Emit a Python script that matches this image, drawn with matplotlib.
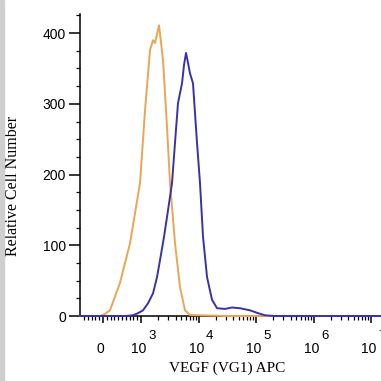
import matplotlib
matplotlib.use("Agg")
import matplotlib.pyplot as plt
from matplotlib.ticker import MultipleLocator, NullFormatter
from matplotlib.patches import Rectangle

# fluorescence intensity (APC) vs cell count
iso_x = [-600, -210, -79, 53, 184, 447, 711, 974, 1174, 1434, 1617, 1752, 2056,
         2413, 2832, 3192, 3900, 4763, 5820, 7110, 10600, 19360, 30000, 1.5e7]
iso_y = [0, 0, 0, 3, 8, 47, 103, 188, 291, 376, 390, 386, 411,
         362, 267, 188, 103, 41, 8, 1.5, 1, 0.5, 0, 0]

vegf_x = [-600, 579, 789, 921, 1083, 1323, 1617, 1898, 2140, 2512, 2832, 3461,
          3900, 4395, 5164, 5596, 6065, 6564, 7110, 8015, 9410, 10610, 11970,
          14060, 17170, 20980, 28910, 38280, 52730, 78700, 108400, 143400,
          214000, 1.5e7]
vegf_y = [0, 0, 1, 4, 8, 18, 32, 55, 79, 112, 140, 188,
          245, 301, 329, 355, 372, 358, 343, 329, 245, 188, 112,
          55, 23, 11, 10, 12, 11, 8, 4, 1,
          0, 0]

x_ticks = [0, 1e3, 1e4, 1e5, 1e6, 1e7]
x_tick_exps = [None, 3, 4, 5, 6, 7]
y_ticks = [0, 100, 200, 300, 400]

sans = "Liberation Sans"
serif = "Liberation Serif"

fig = plt.figure(figsize=(3.81, 3.81), dpi=100)
fig.patches.append(Rectangle((0, 0), 4 / 381, 1, transform=fig.transFigure,
                             color="#cfcfcf", zorder=0))
ax = fig.add_axes([80 / 381, 65 / 381, 301 / 381, 302 / 381])

ax.plot(iso_x, iso_y, color="#EAA654", lw=1.4, solid_joinstyle="round",
        clip_on=False, zorder=4)
ax.plot(vegf_x, vegf_y, color="#3B31A8", lw=1.4, solid_joinstyle="round",
        clip_on=False, zorder=5)

# biexponential-like axis: linear near zero, log above 10^3
ax.set_xscale("symlog", linthresh=1000, linscale=0.595)
ax.set_xlim(-605, 1.49e7)
ax.set_ylim(0, 427)

ax.spines["top"].set_visible(False)
ax.spines["right"].set_visible(False)
ax.spines["left"].set_linewidth(1.1)
ax.spines["bottom"].set_linewidth(1.1)

# x ticks
ax.set_xticks(x_ticks)
ax.set_xticklabels([""] * len(x_ticks))
minor = [v for v in range(-500, 1000, 100) if v != 0]
for d in range(3, 7):
    minor += [k * 10 ** d for k in range(2, 10)]
ax.set_xticks(minor, minor=True)
ax.xaxis.set_minor_formatter(NullFormatter())
ax.tick_params(axis="x", which="major", length=5, width=1.1, direction="out")
ax.tick_params(axis="x", which="minor", length=3, width=0.9, direction="out")

for val, e in zip(x_ticks, x_tick_exps):
    if e is None:
        ax.annotate("0", xy=(val, 0), xycoords=("data", "axes fraction"),
                    xytext=(-2, -23.5), textcoords="offset points",
                    ha="center", va="center", fontsize=10, family=sans)
    else:
        ax.annotate("10", xy=(val, 0), xycoords=("data", "axes fraction"),
                    xytext=(-1.5, -23.5), textcoords="offset points",
                    ha="center", va="center", fontsize=10, family=sans)
        ax.annotate(str(e), xy=(val, 0), xycoords=("data", "axes fraction"),
                    xytext=(5.5, -14.5), textcoords="offset points",
                    ha="left", va="center", fontsize=9.5, family=sans)

# y ticks
ax.set_yticks(y_ticks)
ax.set_yticklabels([str(v) for v in y_ticks], family=sans, fontsize=10)
ax.yaxis.set_minor_locator(MultipleLocator(25))
ax.tick_params(axis="y", which="major", length=8, width=1.1, pad=2)
ax.tick_params(axis="y", which="minor", length=3, width=0.9)

ax.set_xlabel("VEGF (VG1) APC", family=serif, fontsize=11)
ax.xaxis.set_label_coords(0.49, -0.152)
ax.set_ylabel("Relative Cell Number", family=serif, fontsize=11.5)
ax.yaxis.set_label_coords(-0.195, 0.43)

fig.savefig("out.png", dpi=100)
